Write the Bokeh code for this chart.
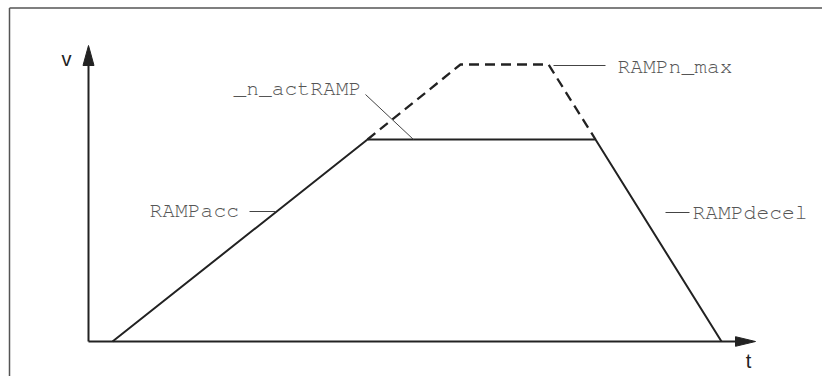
from bokeh.plotting import figure
from bokeh.models import Range1d
from bokeh.core.properties import value
from bokeh.embed import file_html
from bokeh.resources import INLINE

# ---- data (time / velocity units) ----
act_t = [0.24, 2.79, 5.07, 6.33]          # _n_actRAMP profile
act_v = [0.0, 2.02, 2.02, 0.0]
max_t = [2.79, 3.72, 4.60, 5.07]          # RAMPn_max (dashed continuation)
max_v = [2.02, 2.77, 2.77, 2.02]
axis_t_end = 6.67
axis_v_end = 2.96

labels = ["_n_actRAMP", "RAMPn_max", "RAMPacc", "RAMPdecel"]
label_t = [1.45, 5.29, 0.61, 6.04]
label_v = [2.53, 2.75, 1.31, 1.29]
leader_t0 = [2.77, 4.65, 1.61, 5.77]
leader_v0 = [2.47, 2.76, 1.30, 1.29]
leader_t1 = [3.25, 5.17, 1.87, 6.01]
leader_v1 = [2.02, 2.76, 1.30, 1.29]

axis_names = ["v", "t"]
axis_name_t = [-0.22, 6.60]
axis_name_v = [2.83, -0.19]

W, H = 822, 376
xr = Range1d(-0.88, 7.34)
yr = Range1d(-0.35, 3.41)
sx = W / (xr.end - xr.start)   # px per unit
sy = H / (yr.end - yr.start)

p = figure(width=W, height=H, x_range=xr, y_range=yr, output_backend="svg",
           toolbar_location=None, x_axis_type=None, y_axis_type=None,
           min_border=0, outline_line_color=None, background_fill_color="white",
           border_fill_color="white")
p.grid.visible = False

# frame border (top and left only, as in the cropped original)
bx = xr.start + 9 / sx
by = yr.end - 7.5 / sy
p.line([bx, xr.end], [by, by], line_color="#555555", line_width=1.5)
p.line([bx, bx], [yr.start, by], line_color="#555555", line_width=1.5)

ink = "#222222"
# axes
p.line([0, 0], [0, axis_v_end - 18 / sy], line_color=ink, line_width=2)
p.line([0, axis_t_end - 17 / sx], [0, 0], line_color=ink, line_width=2)
hw, hl = 5.5, 20
p.patch([0 - hw / sx, 0, 0 + hw / sx], [axis_v_end - hl / sy, axis_v_end, axis_v_end - hl / sy],
        fill_color=ink, line_color=ink)
p.patch([axis_t_end - hl / sx, axis_t_end, axis_t_end - hl / sx],
        [0 - 4.8 / sy, 0, 0 + 4.8 / sy], fill_color=ink, line_color=ink)

# profiles
p.line(max_t, max_v, line_color=ink, line_width=2.3, line_dash="10 6")
p.line(act_t, act_v, line_color=ink, line_width=2)

# leader lines
p.segment(leader_t0, leader_v0, leader_t1, leader_v1, line_color="#444444", line_width=1)

# labels
p.text(label_t, label_v, text=labels,
       text_font=value("'Nimbus Mono PS', FreeMono, 'Courier New', Courier, 'Liberation Mono', monospace"),
       text_font_size="21.3px", text_color="#555555", text_baseline="middle",
       text_align="left")
p.text(axis_name_t, axis_name_v, text=axis_names, text_font=value("Liberation Sans"),
       text_font_size="20px", text_color=ink, text_baseline="middle",
       text_align="center")

open("out.html", "w").write(file_html(p, INLINE))
